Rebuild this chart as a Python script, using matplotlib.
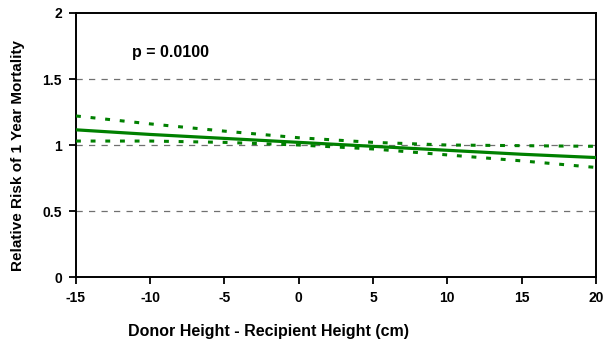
import matplotlib.pyplot as plt

plt.rcParams['font.family'] = ['Liberation Sans', 'DejaVu Sans']
plt.rcParams['font.weight'] = 'bold'
plt.rcParams['axes.unicode_minus'] = False

# height difference (cm) and relative risk with 95% bounds
diff = [-15, -10, -5, 0, 5, 10, 15, 20]
rr = [1.115, 1.08, 1.05, 1.02, 0.99, 0.96, 0.93, 0.905]
rr_upper = [1.22, 1.16, 1.105, 1.055, 1.02, 1.0, 0.995, 0.99]
rr_lower = [1.03, 1.03, 1.02, 1.0, 0.97, 0.925, 0.88, 0.83]
p_text = 'p = 0.0100'

fig = plt.figure(figsize=(6.03, 3.42), dpi=100)
ax = fig.add_axes([0.126, 0.19, 0.862, 0.772])

for level in [0.5, 1.0, 1.5]:
    ax.axhline(level, color='#707070', lw=0.9, ls=(0, (5, 5)), zorder=1)

ax.plot(diff, rr, color='#008000', lw=2.3, zorder=3)
ax.plot(diff, rr_upper, color='#008000', lw=2.2, ls=(0, (1.6, 3.2)), zorder=3)
ax.plot(diff, rr_lower, color='#008000', lw=2.2, ls=(0, (1.6, 3.2)), zorder=3)

ax.text(-11.2, 1.70, p_text, fontsize=11.5, fontweight='bold', ha='left', va='center')

ax.set_xlim(-15, 20)
ax.set_ylim(0, 2)
ax.set_xticks(range(-15, 21, 5))
ax.set_yticks([0, 0.5, 1, 1.5, 2])
ax.set_yticklabels(['0', '0.5', '1', '1.5', '2'])
ax.tick_params(direction='out', length=5, width=1.3, labelsize=10, pad=5)
for side in ax.spines.values():
    side.set_linewidth(1.4)

ax.set_xlabel('Donor Height - Recipient Height (cm)', fontsize=11.5, fontweight='bold')
ax.set_ylabel('Relative Risk of 1 Year Mortality', fontsize=11, fontweight='bold')
ax.xaxis.set_label_coords(0.371, -0.177)
ax.yaxis.set_label_coords(-0.098, 0.462)

fig.savefig('out.png', dpi=100)
